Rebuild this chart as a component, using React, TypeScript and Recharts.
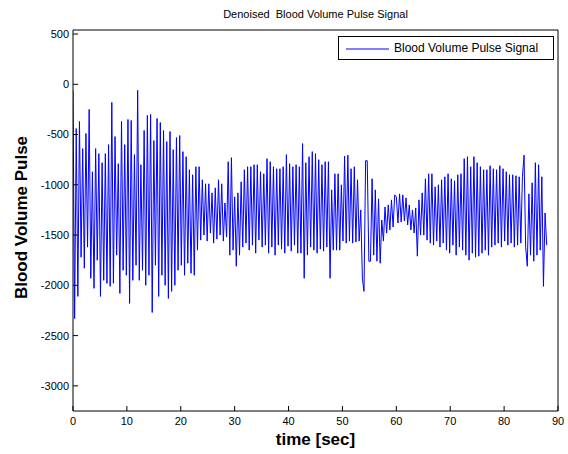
import React from 'react';
import { LineChart, Line, XAxis, YAxis } from 'recharts';

// samples are 0.3 s apart, one row = 6 s of signal
const STEP = 0.3;

const bvp00 = [-60, -2330, -440, -2110, -370, -1720, -640, -1830, -490, -1620, -250, -1930, -870, -2030, -640, -1750, -690, -2110, -780, -1950];
const bvp06 = [-690, -1980, -600, -2010, -180, -1980, -520, -1700, -790, -2080, -370, -1850, -600, -1900, -350, -2180, -360, -1950, -700, -1800];
const bvp12 = [-60, -1950, -800, -1850, -460, -2000, -310, -1900, -300, -2270, -560, -1800, -340, -2110, -380, -1900, -460, -2000, -570, -2130];
const bvp18 = [-470, -2060, -650, -2000, -530, -1850, -510, -1800, -670, -1900, -720, -1780, -850, -1880, -900, -1900, -820, -1650, -820, -1550];
const bvp24 = [-950, -1500, -990, -1560, -990, -1480, -1080, -1580, -1030, -1540, -950, -1500, -990, -1560, -1180, -1520, -770, -1700, -730, -1650];
const bvp30 = [-1120, -1810, -1080, -1700, -970, -1620, -850, -1580, -820, -1650, -820, -1600, -800, -1680, -800, -1550, -870, -1620, -890, -1600];
const bvp36 = [-740, -1680, -770, -1620, -820, -1700, -840, -1600, -840, -1640, -820, -1680, -700, -1610, -790, -1660, -820, -1600, -800, -1680];
const bvp42 = [-820, -1680, -590, -1930, -780, -1700, -720, -1620, -670, -1650, -690, -1680, -750, -1640, -800, -1660, -770, -1620, -770, -1930];
const bvp48 = [-1050, -1650, -890, -1650, -890, -1650, -1000, -1560, -715, -1580, -705, -1560, -840, -1580, -820, -1570, -950, -1560, -1250, -1930];
const bvp54 = [-2060, -760, -760, -1760, -1760, -940, -1700, -1050, -1760, -1140, -1780, -1350, -1560, -1220, -1480, -1200, -1450, -1150, -1420, -1100];
const bvp60 = [-1120, -1380, -1090, -1370, -1100, -1360, -1130, -1400, -1200, -1450, -1250, -1480, -1230, -1710, -1150, -1500, -1080, -1500, -940, -1550];
const bvp66 = [-890, -1580, -890, -1600, -1020, -1560, -1000, -1620, -950, -1580, -920, -1650, -890, -1680, -940, -1600, -960, -1700, -900, -1620];
const bvp72 = [-890, -1650, -740, -1700, -720, -1750, -820, -1680, -720, -1720, -780, -1710, -820, -1680, -850, -1650, -850, -1700, -810, -1620];
const bvp78 = [-840, -1600, -850, -1580, -810, -1620, -840, -1560, -870, -1600, -900, -1580, -900, -1620, -910, -1600, -920, -1580, -920, -705];
const bvp84 = [-1620, -1810, -1090, -1700, -980, -1760, -780, -1700, -800, -1650, -920, -2010, -1280, -1600];

const rows = [bvp00, bvp06, bvp12, bvp18, bvp24, bvp30, bvp36, bvp42, bvp48, bvp54, bvp60, bvp66, bvp72, bvp78, bvp84];

const xTicks = [0, 10, 20, 30, 40, 50, 60, 70, 80, 90];
const yTicks = [500, 0, -500, -1000, -1500, -2000, -2500, -3000];

const data = rows.flat().map((v, i) => ({ t: Math.round(i * STEP * 100) / 100, bvp: v }));

const font = '"Liberation Sans", Arial, sans-serif';

export default function App() {
  return (
    <div style={{ position: 'absolute', left: 0, top: 0, width: 568, height: 454, background: '#fff', fontFamily: font }}>
      <LineChart width={568} height={454} data={data} margin={{ top: 29, right: 9, left: 0, bottom: 0 }}>
        <XAxis
          dataKey="t"
          type="number"
          domain={[0, 90]}
          ticks={xTicks}
          allowDataOverflow
          height={43}
          stroke="#000"
          tickSize={-5}
          tickMargin={11}
          tick={{ fill: '#000', fontSize: 11, fontFamily: font }}
        />
        <XAxis
          xAxisId="top"
          orientation="top"
          dataKey="t"
          type="number"
          domain={[0, 90]}
          ticks={xTicks}
          allowDataOverflow
          height={1}
          stroke="#000"
          tickSize={-5}
          tick={false}
        />
        <YAxis
          type="number"
          domain={[-3250, 540]}
          ticks={yTicks}
          allowDataOverflow
          width={73}
          stroke="#000"
          tickSize={-5}
          tickMargin={9}
          tick={{ fill: '#000', fontSize: 11, fontFamily: font }}
        />
        <YAxis
          yAxisId="right"
          orientation="right"
          type="number"
          domain={[-3250, 540]}
          ticks={yTicks}
          allowDataOverflow
          width={1}
          stroke="#000"
          tickSize={-5}
          tick={false}
        />
        {/* invisible copy so the top/right frame axes get drawn */}
        <Line
          xAxisId="top"
          yAxisId="right"
          type="linear"
          dataKey="bvp"
          stroke="none"
          dot={false}
          activeDot={false}
          legendType="none"
          isAnimationActive={false}
        />
        <Line
          type="linear"
          dataKey="bvp"
          stroke="#0000ff"
          strokeWidth={1}
          dot={false}
          isAnimationActive={false}
        />
      </LineChart>

      <div style={{ position: 'absolute', left: 73, width: 485, top: 9, textAlign: 'center', fontSize: 11, lineHeight: '11px', whiteSpace: 'pre' }}>
        Denoised  Blood Volume Pulse Signal
      </div>
      <div style={{ position: 'absolute', left: 73, width: 485, top: 431, textAlign: 'center', fontSize: 17, fontWeight: 'bold', lineHeight: '17px' }}>
        time [sec]
      </div>
      <div
        style={{
          position: 'absolute', left: 21, top: 218, width: 240, marginLeft: -120, marginTop: -9,
          textAlign: 'center', fontSize: 17, fontWeight: 'bold', lineHeight: '17px', transform: 'rotate(-90deg)'
        }}
      >
        Blood Volume Pulse
      </div>

      <div style={{ position: 'absolute', left: 338, top: 36, width: 214, height: 22, border: '1px solid #000', background: '#fff', fontSize: 12 }}>
        <svg width={50} height={22} style={{ position: 'absolute', left: 0, top: 0 }}>
          <line x1={7} y1={12} x2={50} y2={12} stroke="#0000ff" strokeWidth={1} />
        </svg>
        <span style={{ position: 'absolute', left: 55, top: 4, lineHeight: '14px', whiteSpace: 'nowrap' }}>Blood Volume Pulse Signal</span>
      </div>
    </div>
  );
}
